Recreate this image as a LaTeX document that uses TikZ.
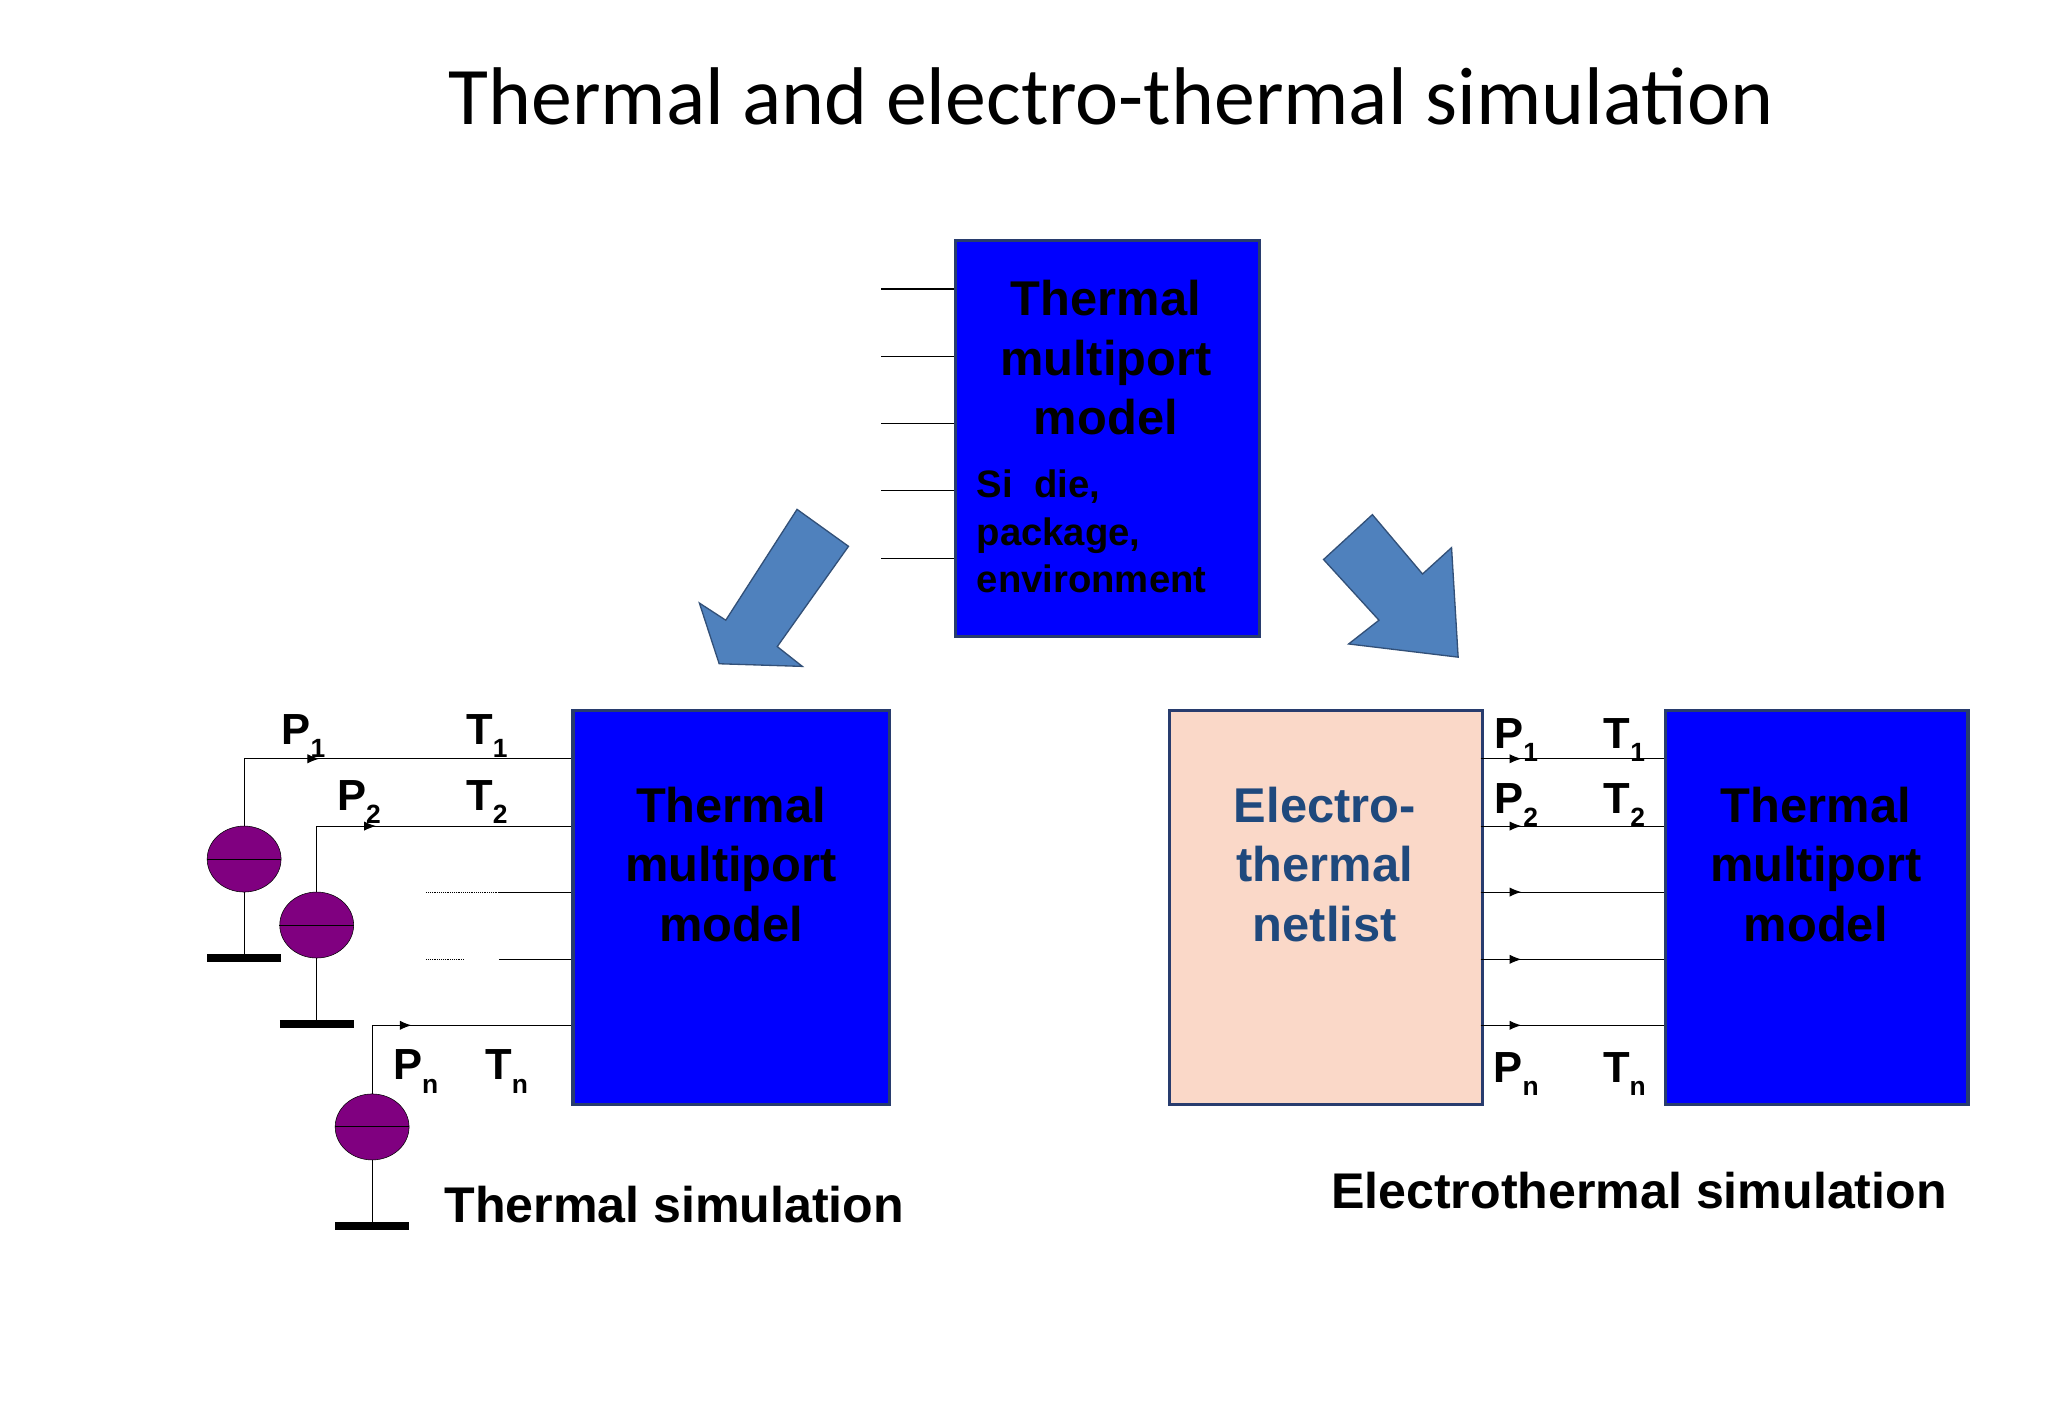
\documentclass[tikz,border=0pt]{standalone}
\usepackage{fontspec}
\setmainfont{Liberation Sans}
\newfontfamily\titlefont{Carlito}
\usetikzlibrary{arrows.meta,shapes.geometric}
\definecolor{bblue}{RGB}{0,0,255}
\definecolor{bord}{RGB}{40,60,110}
\definecolor{arrblue}{RGB}{79,129,189}
\definecolor{arrbord}{RGB}{50,80,120}
\definecolor{netfill}{RGB}{250,216,200}
\definecolor{navy}{RGB}{31,73,125}
\definecolor{purp}{RGB}{128,0,128}
\newcommand{\sbs}[1]{\raisebox{-0.3em}{\fontsize{20}{20}\selectfont #1}}
\begin{document}
\begin{tikzpicture}[x=1pt,y=-1pt,
  bigbox/.style={draw=bord,line width=2.5pt,fill=bblue},
  btxt/.style={font=\fontsize{37}{45}\selectfont\bfseries,align=center},
  lbl/.style={font=\fontsize{33}{34}\selectfont\bfseries,inner sep=0},
  port/.style={line width=0.8pt},
  parr/.style={line width=0.8pt,-{Latex[length=9pt,width=7pt]}},
  barr/.style={draw=arrbord,line width=1pt,fill=arrblue},
  src/.style={draw=black,fill=purp,ellipse,minimum width=56pt,minimum height=50pt,inner sep=0},
  gnd/.style={line width=6pt}]
\useasboundingbox (0,0) rectangle (1552,1075);
\fill[white] (0,0) rectangle (1552,1075);
\node[font=\titlefont\fontsize{62}{64}\selectfont] (title) at (842,73) {Thermal and electro-thermal simulation};
% top box
\node[bigbox,minimum width=230pt,minimum height=300pt,anchor=north west] (top) at (723,181) {};
\node[btxt] (toptxt) at (838,271) {Thermal\\multiport\\model};
\node[font=\fontsize{29}{36}\selectfont\bfseries,align=left,anchor=north west,inner sep=0] (si) at (740,356) {Si\ \ die,\\package,\\environment};
\foreach \y [count=\i] in {219,270,321,372,423}{
  \coordinate (tl\i) at (668,\y); \coordinate (tr\i) at (723,\y);
  \draw[port] (tl\i) -- (tr\i);}
% block arrows
\draw[barr] (604,386)--(643,414)--(589,490)--(608,505)--(545,503)--(530,457)--(550,470)--cycle;
\draw[barr] (1003,424)--(1040,390)--(1078,435)--(1100,415)--(1105,498)--(1022,488)--(1045,470)--cycle;
% bottom-left
\node[bigbox,minimum width=240pt,minimum height=299pt,anchor=north west] (bl) at (433,537) {};
\node[btxt] (bltxt) at (554,655) {Thermal\\multiport\\model};
\coordinate (a1) at (185,575); \coordinate (b1) at (433,575);
\coordinate (a2) at (240,626); \coordinate (b2) at (433,626);
\coordinate (b3) at (433,676); \coordinate (c3) at (378,676); \coordinate (d3) at (323,676);
\coordinate (b4) at (433,727); \coordinate (c4) at (378,727); \coordinate (d4) at (323,727);
\coordinate (a5) at (282,777); \coordinate (b5) at (433,777);
\draw[port] (a1)--(b1); \draw[parr] (a1)--(242,575);
\draw[port] (a2)--(b2); \draw[parr] (a2)--(285,626);
\draw[port] (c3)--(b3); \draw[densely dotted] (d3)--(c3);
\draw[port] (c4)--(b4); \draw[densely dotted] (d4)--(352,727);
\draw[port] (a5)--(b5); \draw[parr] (a5)--(312,777);
\foreach \n/\x/\y/\gy in {s1/185/651/726,s2/240/701/776,s3/282/854/929}{
  \node[src] (\n) at (\x,\y) {};
  \draw[port] (\n.west)--(\n.east);
  \coordinate (\n g) at (\x,\gy);
  \draw[port] (\n.south)--(\n g);
  \draw[gnd] (\x-28,\gy)--(\x+28,\gy);}
\draw[port] (s1.north)--(a1);
\draw[port] (s2.north)--(a2);
\draw[port] (s3.north)--(a5);
\node[lbl] (p1) at (230,558) {P\sbs{1}};
\node[lbl] (t1) at (369,558) {T\sbs{1}};
\node[lbl] (p2) at (272,608) {P\sbs{2}};
\node[lbl] (t2) at (369,608) {T\sbs{2}};
\node[lbl] (pn) at (315,812) {P\sbs{n}};
\node[lbl] (tn) at (384,812) {T\sbs{n}};
\node[font=\fontsize{38}{40}\selectfont\bfseries] (ts) at (511,913) {Thermal simulation};
% right
\node[draw=bord,line width=2.5pt,fill=netfill,minimum width=237pt,minimum height=299pt,anchor=north west] (net) at (885,537) {};
\node[btxt,text=navy] (nettxt) at (1004,655) {Electro-\\thermal\\netlist};
\node[bigbox,minimum width=229pt,minimum height=299pt,anchor=north west] (br) at (1261,537) {};
\node[btxt] (brtxt) at (1376,655) {Thermal\\multiport\\model};
\foreach \y [count=\i] in {575,626,676,727,777}{
  \coordinate (l\i) at (1122,\y); \coordinate (r\i) at (1261,\y);
  \draw[port] (l\i)--(r\i); \draw[parr] (l\i)--(1153,\y);}
\node[lbl] (rp1) at (1149,561) {P\sbs{1}};
\node[lbl] (rt1) at (1231,561) {T\sbs{1}};
\node[lbl] (rp2) at (1149,610) {P\sbs{2}};
\node[lbl] (rt2) at (1231,610) {T\sbs{2}};
\node[lbl] (rpn) at (1149,814) {P\sbs{n}};
\node[lbl] (rtn) at (1231,814) {T\sbs{n}};
\node[font=\fontsize{38}{40}\selectfont\bfseries] (es) at (1242,902) {Electrothermal simulation};
\end{tikzpicture}
\end{document}
